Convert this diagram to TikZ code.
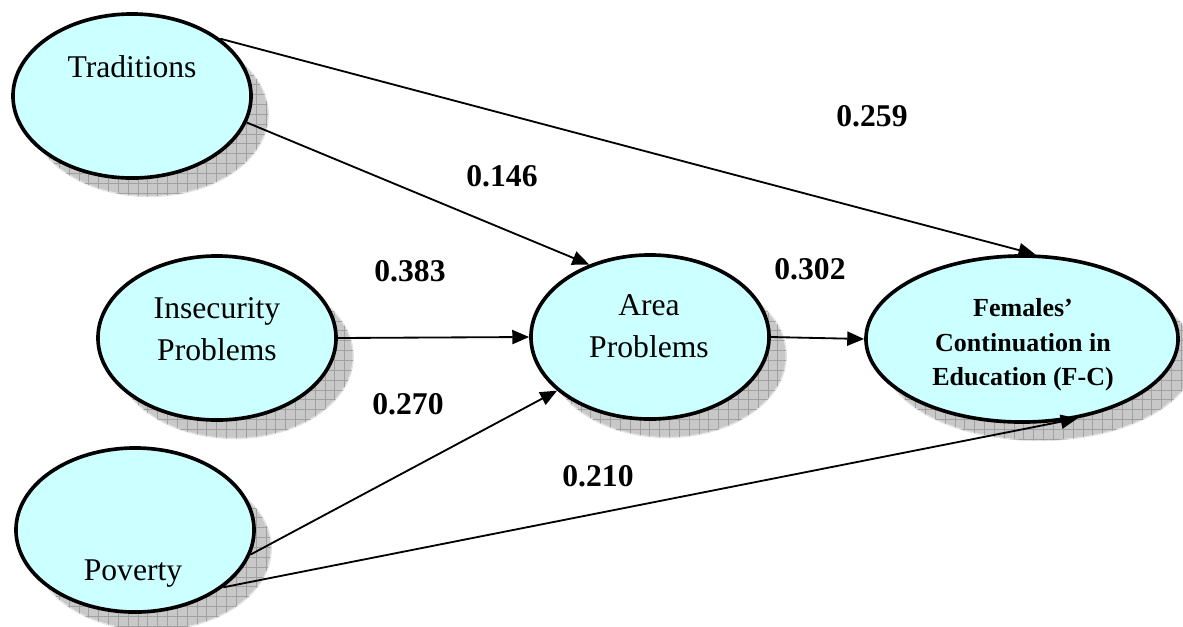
\documentclass[tikz,border=0pt]{standalone}
\usepackage{fontspec}
\setmainfont{Liberation Serif}
\usepackage{tikz}
\usetikzlibrary{
  arrows.meta,
  shapes.geometric,
  shadows,
  patterns.meta,
  positioning
}
\usepackage{xcolor}
\definecolor{ccyan}{RGB}{204,255,255}
\definecolor{cshade}{RGB}{200,200,200}
\definecolor{cgrid}{RGB}{160,160,160}
\definecolor{crim}{RGB}{228,228,228}
\tikzset{
  construct/.style={
    ellipse, draw=black, line width=2.6pt, fill=ccyan,
    minimum width=5.95cm, minimum height=4.1cm, inner sep=0pt,
    drop shadow={shadow xshift=0.43cm, shadow yshift=-0.46cm,
      opacity=1, fill=cshade, draw=crim, line width=1pt},
    drop shadow={shadow xshift=0.43cm, shadow yshift=-0.46cm,
      opacity=1, pattern color=cgrid,
      pattern={Hatch[angle=0, distance=7pt, line width=0.35pt]}}
  },
  outcome/.style={
    construct, minimum width=7.8cm, minimum height=4.15cm
  },
  ctext/.style={
    font=\fontsize{22.5}{30}\selectfont, align=center, inner sep=0pt
  },
  otext/.style={
    font=\fontsize{18.5}{24.5}\selectfont\bfseries, align=center, inner sep=0pt
  },
  coef/.style={
    font=\fontsize{22.5}{27}\selectfont\bfseries, inner sep=0pt
  },
  arr/.style={-{Triangle[length=12pt, width=10pt]}, line width=1.3pt}
}

\begin{document}
\begin{tikzpicture}[x=0.025cm, y=-0.025cm]

    \useasboundingbox (0,0) rectangle (1183,626);

    %% ---- constructs ------------------------------------------------
    \node[construct] (trad)  at (132,96)  {};
    \node[construct] (insec) at (217,338) {};
    \node[construct] (pov)   at (135,530) {};
    \node[construct] (area)  at (650,337) {};
    \node[outcome]   (fc)    at (1022,339) {};

    \node[ctext] (tradT)  at (132,67)  {Traditions};
    \node[ctext] (insecT) at (217,329) {Insecurity\\Problems};
    \node[ctext] (povT)   at (133,574) {Poverty};
    \node[ctext] (areaT)  at (649,326) {Area\\Problems};
    \node[otext] (fcT)    at (1023,345) {Females'\\Continuation in\\Education (F-C)};

    %% ---- paths -----------------------------------------------------
    \draw[arr] (trad.33)   -- (fc.81);
    \draw[arr] (trad.-13)  -- (area.130);
    \draw[arr] (insec.east) -- (area.west);
    \draw[arr] (pov.-12)   -- (area.210);
    \draw[arr] (pov.-33)   -- (fc.-55);
    \draw[arr] (area.east) -- (fc.west);

    %% ---- coefficients ----------------------------------------------
    \node[coef] (c259) at (872,116) {0.259};
    \node[coef] (c146) at (502,176) {0.146};
    \node[coef] (c383) at (410,271) {0.383};
    \node[coef] (c302) at (810,269) {0.302};
    \node[coef] (c270) at (408,404) {0.270};
    \node[coef] (c210) at (598,476) {0.210};

\end{tikzpicture}
\end{document}
